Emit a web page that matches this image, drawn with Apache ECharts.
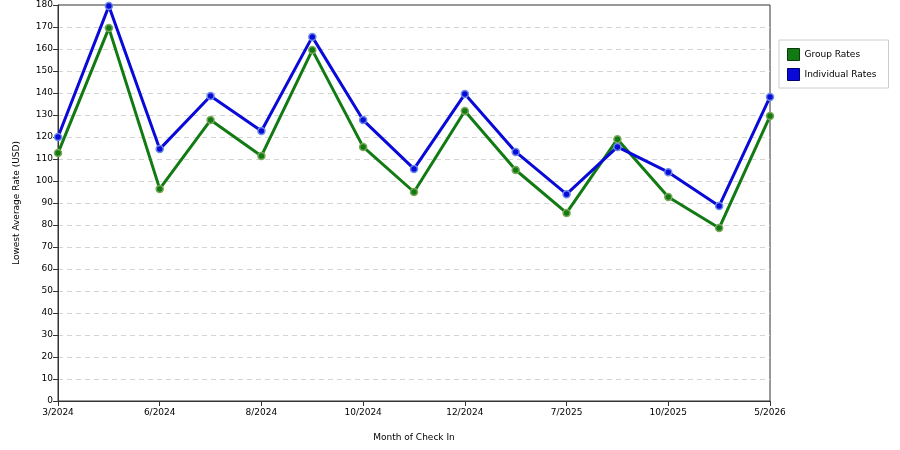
<!DOCTYPE html>
<html>
<head>
<meta charset="utf-8">
<script src="https://cdn.jsdelivr.net/npm/echarts@6/dist/echarts.min.js"></script>
<style>
  html, body { margin: 0; padding: 0; background: #fff; }
  #chart { width: 900px; height: 450px; }
</style>
</head>
<body>
<div id="chart"></div>
<script>
// months of check in (only every other one is labelled on the axis)
var months = ['3/2024', '4/2024', '6/2024', '7/2024', '8/2024', '9/2024', '10/2024', '11/2024',
              '12/2024', '1/2025', '7/2025', '8/2025', '10/2025', '11/2025', '5/2026'];
var groupRates = [112.7, 169.5, 96.4, 127.7, 111.4, 159.5, 115.5, 95, 131.8, 105, 85.5, 119, 92.7, 78.6, 129.5];
var individualRates = [120, 179.5, 114.5, 138.6, 122.7, 165.5, 127.7, 105.5, 139.5, 113.2, 94, 115.5, 104, 88.6, 138.2];

var chart = echarts.init(document.getElementById('chart'));
var fontFam = 'DejaVu Sans, Verdana, sans-serif';
var green = '#127a12';
var blue = '#0a0ad8';

function lineSeries(name, data, color, halo) {
  return {
    name: name,
    type: 'line',
    data: data,
    symbol: 'circle',
    symbolSize: 7,
    showSymbol: true,
    lineStyle: { color: color, width: 3 },
    itemStyle: { color: color, borderColor: halo, borderWidth: 1.5 },
    animation: false
  };
}

var option = {
  backgroundColor: '#ffffff',
  legend: {
    orient: 'vertical',
    left: 779,
    top: 40,
    padding: [8, 12, 7, 8],
    itemGap: 7,
    itemWidth: 12,
    itemHeight: 12,
    borderColor: '#cccccc',
    borderWidth: 1,
    icon: 'rect',
    textStyle: { fontFamily: fontFam, fontSize: 9, color: '#000' },
    data: [
      { name: 'Group Rates', itemStyle: { color: green, borderColor: '#0a3a0a', borderWidth: 1 } },
      { name: 'Individual Rates', itemStyle: { color: blue, borderColor: '#00006a', borderWidth: 1 } }
    ]
  },
  grid: {
    left: 58,
    right: 130,
    top: 5,
    bottom: 49,
    show: true,
    borderColor: '#333',
    borderWidth: 1
  },
  xAxis: {
    type: 'category',
    data: months,
    boundaryGap: false,
    name: 'Month of Check In',
    nameLocation: 'middle',
    nameGap: 32,
    nameTextStyle: { fontFamily: fontFam, fontSize: 9, color: '#000' },
    axisLine: { lineStyle: { color: '#333', width: 1 } },
    axisTick: { show: true, interval: 1, length: 5, lineStyle: { color: '#333' } },
    axisLabel: { interval: 1, fontFamily: fontFam, fontSize: 9, color: '#000', margin: 7 },
    splitLine: { show: false }
  },
  yAxis: {
    type: 'value',
    min: 0,
    max: 180,
    interval: 10,
    name: 'Lowest Average Rate (USD)',
    nameLocation: 'middle',
    nameGap: 37,
    nameTextStyle: { fontFamily: fontFam, fontSize: 9, color: '#000' },
    axisLine: { show: true, lineStyle: { color: '#333', width: 1 } },
    axisTick: { show: true, length: 5, lineStyle: { color: '#333' } },
    axisLabel: { fontFamily: fontFam, fontSize: 9, color: '#000', margin: 5 },
    splitLine: {
      show: true,
      showMinLine: false,
      showMaxLine: false,
      lineStyle: { color: '#d4d4d4', type: [5, 4], width: 1 }
    }
  },
  series: [
    lineSeries('Group Rates', groupRates, green, '#7aa85a'),
    lineSeries('Individual Rates', individualRates, blue, '#6a8ae8')
  ]
};

chart.setOption(option);
window.addEventListener('resize', function () { chart.resize(); });
</script>
</body>
</html>
